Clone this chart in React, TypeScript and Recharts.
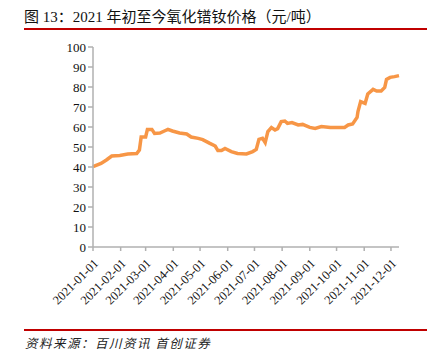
import { LineChart, Line, XAxis, YAxis } from 'recharts'

const dates = [
  '2021-01-01', '2021-01-10', '2021-01-16', '2021-01-22', '2021-01-31', '2021-02-09', '2021-02-19',
  '2021-02-22', '2021-02-24', '2021-03-01', '2021-03-03', '2021-03-08', '2021-03-11', '2021-03-17',
  '2021-03-22', '2021-03-26', '2021-03-31', '2021-04-08', '2021-04-16', '2021-04-21', '2021-04-29',
  '2021-05-04', '2021-05-12', '2021-05-18', '2021-05-21', '2021-05-25', '2021-05-29', '2021-06-05',
  '2021-06-12', '2021-06-22', '2021-06-29', '2021-07-03', '2021-07-06', '2021-07-10', '2021-07-13',
  '2021-07-16', '2021-07-20', '2021-07-24', '2021-07-27', '2021-07-31', '2021-08-04', '2021-08-07',
  '2021-08-12', '2021-08-19', '2021-08-24', '2021-09-01', '2021-09-07', '2021-09-14', '2021-09-24',
  '2021-10-01', '2021-10-10', '2021-10-14', '2021-10-19', '2021-10-24', '2021-10-25', '2021-10-28',
  '2021-11-02', '2021-11-05', '2021-11-11', '2021-11-15', '2021-11-20', '2021-11-24', '2021-11-26',
  '2021-11-30', '2021-12-05', '2021-12-10',
]

// 价格
const prices = [
  40.2, 41.8, 43.5, 45.5, 45.8, 46.5, 46.7,
  48.5, 55, 55, 58.8, 58.8, 56.8, 57,
  58, 58.8, 58, 57, 56.5, 55, 54.3,
  53.7, 51.8, 50.5, 48.2, 48.2, 49.3, 47.7,
  46.8, 46.5, 47.7, 48.8, 53.8, 54.3, 52.2,
  57.7, 59.7, 58.5, 59.2, 62.7, 63, 61.8,
  62.2, 61, 61.3, 59.8, 59.3, 60.2, 59.7,
  59.7, 59.8, 61, 61.5, 64.8, 67.7, 72.7,
  71.8, 76.5, 78.8, 78, 78, 79.8, 83.8,
  84.8, 85.2, 85.7,
]

const tickLabels = [
  '2021-01-01', '2021-02-01', '2021-03-01', '2021-04-01', '2021-05-01', '2021-06-01',
  '2021-07-01', '2021-08-01', '2021-09-01', '2021-10-01', '2021-11-01', '2021-12-01',
]

const yTicks = [0, 10, 20, 30, 40, 50, 60, 70, 80, 90, 100]

const dayOf = (s: string) =>
  Math.round((Date.parse(s + 'T00:00:00Z') - Date.parse('2021-01-01T00:00:00Z')) / 86400000)

const data = dates.map((d, i) => ({ day: dayOf(d), price: prices[i] }))
const xTicks = tickLabels.map(dayOf)
const labelOf: Record<number, string> = {}
tickLabels.forEach((t) => (labelOf[dayOf(t)] = t))

const serif = '"Liberation Serif", "Times New Roman", serif'

function DateTick({ x, y, payload }: any) {
  return (
    <text
      x={x + 3}
      y={y + 8}
      textAnchor="end"
      fontSize={12.5}
      fontFamily={serif}
      fill="#111"
      transform={`rotate(-45, ${x + 3}, ${y + 8})`}
      dy="0.35em"
    >
      {labelOf[payload.value]}
    </text>
  )
}

export default function App() {
  return (
    <div style={{ position: 'absolute', left: 0, top: 0, width: 433, height: 358, background: '#fff' }}>
      <div
        style={{
          position: 'absolute',
          left: 24,
          top: 5,
          fontSize: 15,
          fontFamily: '"Liberation Serif", "Noto Sans CJK SC", serif',
          color: '#111',
          whiteSpace: 'nowrap',
        }}
      >
        图 13：2021 年初至今氧化镨钕价格（元/吨）
      </div>
      <div style={{ position: 'absolute', left: 24, top: 28, width: 403, height: 2, background: '#c00000' }} />

      <div style={{ position: 'absolute', left: 0, top: 0 }}>
        <LineChart width={433} height={320} data={data} margin={{ top: 47, right: 34, bottom: 5, left: 43 }}>
          <XAxis
            dataKey="day"
            type="number"
            domain={[0, 343]}
            ticks={xTicks}
            interval={0}
            height={68}
            stroke="#b0b0b0"
            strokeWidth={1.5}
            tickSize={4}
            tick={<DateTick />}
          />
          <YAxis
            type="number"
            domain={[0, 100]}
            ticks={yTicks}
            interval={0}
            width={50}
            stroke="#b0b0b0"
            strokeWidth={1.5}
            tickSize={5}
            tick={{ fontSize: 13, fontFamily: serif, fill: '#111' }}
          />
          <Line
            type="linear"
            dataKey="price"
            stroke="#f79646"
            strokeWidth={3.5}
            dot={false}
            isAnimationActive={false}
          />
        </LineChart>
      </div>

      <div style={{ position: 'absolute', left: 24, top: 329, width: 403, height: 2, background: '#c00000' }} />
      <div
        style={{
          position: 'absolute',
          left: 25,
          top: 333,
          fontSize: 12.5,
          letterSpacing: 1.5,
          fontStyle: 'italic',
          fontFamily: '"Noto Sans CJK SC", sans-serif',
          color: '#222',
          whiteSpace: 'pre',
        }}
      >
        资料来源：百川资讯 首创证券
      </div>
    </div>
  )
}
